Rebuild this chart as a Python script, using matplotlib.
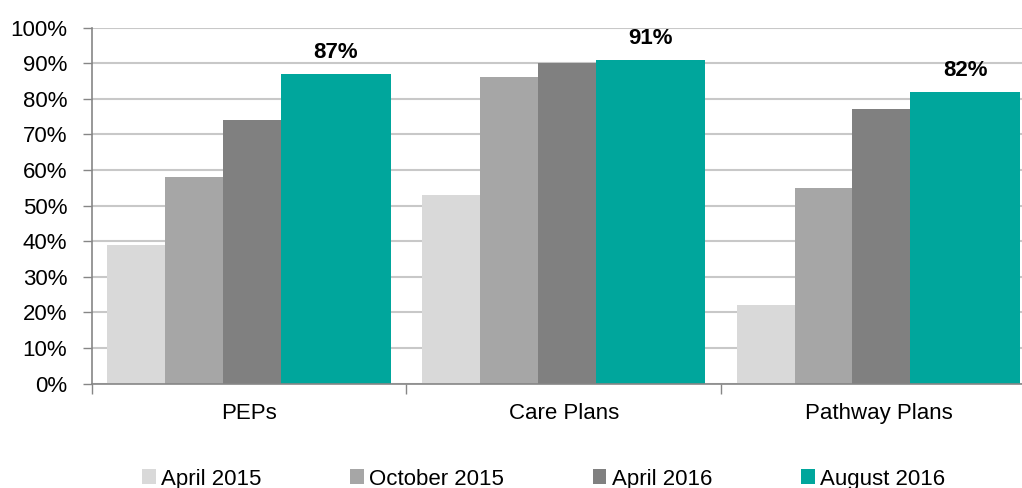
import numpy as np
import matplotlib.pyplot as plt
from matplotlib.patches import Patch

categories = ['PEPs', 'Care Plans', 'Pathway Plans']
series_names = ['April 2015', 'October 2015', 'April 2016', 'August 2016']
april_2015 = [39, 53, 22]
october_2015 = [58, 86, 55]
april_2016 = [74, 90, 77]
august_2016 = [87, 91, 82]

colors = ['#D9D9D9', '#A6A6A6', '#808080', '#00A69C']


def main():
    plt.rcParams['font.family'] = ['Liberation Sans', 'DejaVu Sans']

    fig = plt.figure(figsize=(10.22, 4.88), dpi=100)
    ax = fig.add_axes([0.0897, 0.2141, 0.9103, 0.7295])

    x = np.arange(len(categories))
    series = [april_2015, october_2015, april_2016, august_2016]
    # narrow bars for the first three, double width for the latest one
    widths = [0.1837, 0.1837, 0.1837, 0.3489]
    left = -0.45
    for vals, w, c in zip(series, widths, colors):
        ax.bar(x + left, vals, width=w, align='edge', color=c, zorder=2)
        if c == colors[-1]:
            for xi, v in zip(x, vals):
                ax.annotate('{}%'.format(v), (xi + left + w / 2, v),
                            xytext=(0, 7.5), textcoords='offset points',
                            ha='center', va='bottom', fontsize=16,
                            fontweight='bold')
        left += w

    ax.set_ylim(0, 100)
    ax.set_xlim(-0.5, 2.456)
    ax.set_yticks(np.arange(0, 101, 10))
    ax.set_yticklabels(['{}%'.format(v) for v in range(0, 101, 10)])
    ax.set_xticks(x)
    ax.set_xticklabels(categories)
    ax.set_xticks([-0.5, 0.5, 1.5], minor=True)

    ax.tick_params(axis='y', length=6.5, width=1, color='#868686',
                   labelsize=16, pad=11)
    ax.tick_params(axis='x', which='major', length=0, labelsize=16, pad=14)
    ax.tick_params(axis='x', which='minor', length=7, width=1,
                   color='#868686', direction='out')

    ax.yaxis.grid(True, color='#C8C8C8', linewidth=1.5, zorder=0)
    ax.set_axisbelow(True)
    for side in ['top', 'right']:
        ax.spines[side].set_visible(False)
    ax.spines['left'].set_color('#868686')
    ax.spines['bottom'].set_color('#868686')
    ax.spines['left'].set_linewidth(1.2)
    ax.spines['bottom'].set_linewidth(1.2)

    handles = [Patch(facecolor=c) for c in colors]
    fig.legend(handles, series_names, loc='center', ncol=4,
               bbox_to_anchor=(0.532, 0.018), frameon=False, fontsize=16,
               handlelength=0.6, handleheight=0.65, handletextpad=0.25,
               columnspacing=4.0, borderaxespad=0)

    fig.savefig('out.png', dpi=100)


if __name__ == '__main__':
    main()
